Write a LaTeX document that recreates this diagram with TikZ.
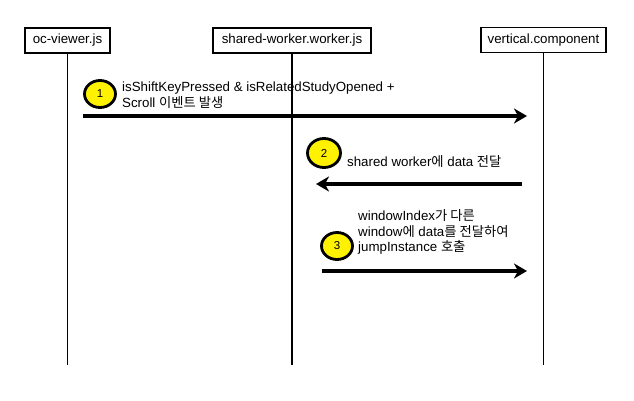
\documentclass[tikz,border=0pt]{standalone}
\usepackage{fontspec}
\setmainfont{Liberation Sans}
\newfontfamily\kr{Noto Sans CJK KR}
\usetikzlibrary{arrows.meta,shapes.geometric}

\begin{document}
\begin{tikzpicture}[x=1pt,y=-1pt,
        box/.style={draw,line width=1.6pt,minimum height=25pt,inner sep=0pt,font=\fontsize{13.3}{15}\selectfont},
        life/.style={line width=1.4pt},
        msg/.style={line width=3.8pt,-{Stealth[length=13pt,width=15pt,inset=4pt]}},
        badge/.style={ellipse,draw,line width=2.8pt,fill=yellow,minimum width=31pt,minimum height=27pt,inner sep=0pt,font=\fontsize{11.5}{13}\selectfont},
        lbl/.style={anchor=west,align=left,inner sep=0pt,font=\fontsize{13.3}{15.5}\selectfont}]
        \useasboundingbox (0,0) rectangle (634,401);

        % 三个参与者
        \node[box,minimum width=85pt] (V) at (67.5,40.5) {oc-viewer.js};
        \node[box,minimum width=158pt] (W) at (292,40.5) {shared-worker.worker.js};
        \node[box,minimum width=125pt] (C) at (543.5,40) {vertical.component};

        % 生命线
        \coordinate (bottom) at (0,365);
        \draw[life] (V.south) -- (V.south |- bottom);
        \draw[life] (W.south) -- (W.south |- bottom);
        \draw[life] (C.south) -- (C.south |- bottom);

        % 消息的端点
        \coordinate (m1s) at (83,116);
        \coordinate (m1e) at (527,116);
        \coordinate (m2s) at (522,184);
        \coordinate (m2e) at (316,184);
        \coordinate (m3s) at (322,271);
        \coordinate (m3e) at (527,271);

        % 绘制消息
        \draw[msg] (m1s) -- (m1e);
        \draw[msg] (m2s) -- (m2e);
        \draw[msg] (m3s) -- (m3e);

        % 编号
        \node[badge] (b1) at (100,94) {1};
        \node[badge,minimum width=33pt,minimum height=29pt] (b2) at (324,153) {2};
        \node[badge] (b3) at (337,246) {3};

        % 说明文字
        \node[lbl] (t1) at (122,95) {isShiftKeyPressed \& isRelatedStudyOpened +\\Scroll {\kr 이벤트 발생}};
        \node[lbl] (t2) at (347,162) {shared worker{\kr 에} data {\kr 전달}};
        \node[lbl] (t3) at (358,232) {windowIndex{\kr 가 다른}\\window{\kr 에} data{\kr 를 전달하여}\\jumpInstance {\kr 호출}};
    \end{tikzpicture}
\end{document}
